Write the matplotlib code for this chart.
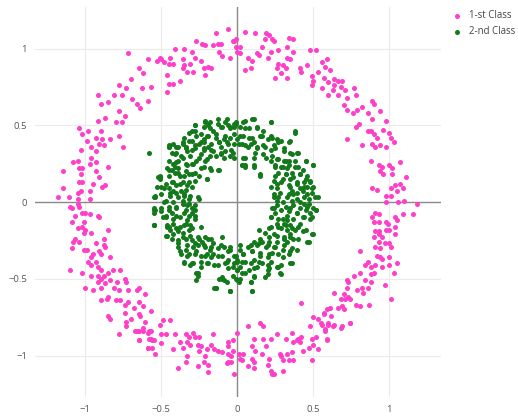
import numpy as np
import matplotlib
matplotlib.use("Agg")
import matplotlib.pyplot as plt

# points (x, y)
pink_pts = [
    (-0.65, 0.87), (-0.62, 0.84), (-0.70, 0.80), (-0.78, 0.76), (-0.76, 0.70), (-0.73, 0.74), (-0.69, 0.67),
    (-0.66, 0.64), (-0.64, 0.61), (-0.59, 0.66), (-0.63, 0.74), (-0.57, 0.75), (-0.92, 0.70), (-0.90, 0.64),
    (-0.85, 0.65), (-0.81, 0.70), (-0.87, 0.55), (-0.80, 0.52), (-0.76, 0.52), (-0.92, 0.53), (-0.78, 0.59),
    (-0.74, 0.56), (-1.04, 0.48), (-1.02, 0.44), (-0.98, 0.46), (-0.99, 0.40), (-0.93, 0.42), (-0.90, 0.46),
    (-0.89, 0.41), (-0.91, 0.38), (-0.88, 0.37), (-0.84, 0.41), (-0.78, 0.43), (-0.75, 0.36), (-0.96, 0.36),
    (-1.03, 0.34), (-0.96, 0.29), (-0.93, 0.33), (-1.05, 0.27), (-1.08, 0.26), (-1.04, 0.22), (-1.02, 0.22),
    (-0.97, 0.25), (-0.93, 0.26), (-0.85, 0.23), (-0.93, 0.20), (-0.91, 0.16), (-1.15, 0.20), (-1.03, 0.18),
    (-1.04, 0.13), (-1.02, 0.13), (-0.95, 0.12), (-0.89, 0.10), (-0.87, 0.11), (-1.15, 0.09), (-1.18, 0.03),
    (-1.11, 0.03), (-1.05, 0.06), (-1.03, 0.07), (-1.05, 0.02), (-0.97, 0.07), (-0.97, 0.02), (-1.10, -0.03),
    (-1.09, -0.04), (-1.05, -0.01), (-1.04, -0.03), (-1.07, -0.09), (-1.02, -0.07), (-1.00, -0.07),
    (-0.97, -0.08), (-0.92, -0.09), (-0.91, -0.10), (-1.09, -0.13), (-1.01, -0.13), (-1.02, -0.16),
    (-1.05, -0.17), (-1.00, -0.18), (-0.96, -0.20), (-1.01, -0.20), (-1.07, -0.24), (-1.08, -0.26),
    (-1.09, -0.30), (-1.04, -0.26), (-1.01, -0.31), (-0.99, -0.31), (-0.93, -0.27), (-0.88, -0.28),
    (-0.85, -0.18), (-0.88, -0.24), (-0.95, -0.34), (-0.91, -0.32), (-0.90, -0.34), (-0.96, -0.36),
    (-0.98, -0.39), (-0.93, -0.39), (-0.96, -0.41), (-0.84, -0.36), (-0.87, -0.29), (-0.92, -0.42),
    (-0.90, -0.44), (-1.10, -0.44), (-1.02, -0.46), (-0.96, -0.48), (-0.92, -0.48), (-0.90, -0.50),
    (-0.88, -0.48), (-0.85, -0.46), (-0.82, -0.44), (-0.77, -0.44), (-0.92, -0.52), (-0.87, -0.53),
    (-0.84, -0.51), (-0.79, -0.52), (-0.74, -0.50), (-0.73, -0.52), (-1.00, -0.56), (-0.95, -0.57),
    (-0.90, -0.56), (-0.81, -0.56), (-0.78, -0.57), (-0.72, -0.57), (-0.66, -0.57), (-0.65, -0.56),
    (-0.61, -0.60), (-0.90, -0.64), (-0.86, -0.63), (-0.85, -0.62), (-0.80, -0.64), (-0.77, -0.64),
    (-0.74, -0.67), (-0.72, -0.65), (-0.68, -0.69), (-0.65, -0.65), (-0.62, -0.68), (-0.57, -0.71),
    (-0.74, -0.72), (-0.70, -0.76), (-0.65, -0.73), (-0.64, -0.74), (-0.85, -0.74), (-0.84, -0.76),
    (-0.73, -0.78), (-0.73, -0.81), (-0.61, -0.78), (-0.66, -0.84), (-0.62, -0.84), (-0.58, -0.84),
    (-0.57, -0.89), (-0.55, -0.90), (-0.78, -0.86), (-0.65, -0.90), (-0.59, -0.95), (-0.56, -0.95),
    # upper left
    (-0.72, 0.97), (-0.59, 0.93), (-0.51, 0.94), (-0.53, 0.92),
    (-0.50, 0.93), (-0.48, 0.91), (-0.45, 0.90), (-0.42, 0.90), (-0.44, 0.94), (-0.36, 0.93), (-0.35, 0.89),
    (-0.41, 1.00), (-0.35, 1.00), (-0.27, 1.05), (-0.23, 1.03), (-0.21, 1.02), (-0.16, 1.02), (-0.14, 1.10),
    (-0.11, 1.03), (-0.12, 0.98), (-0.10, 0.95), (-0.05, 0.94), (-0.02, 1.05), (-0.01, 1.01), (0.00, 0.98),
    (-0.06, 1.13), (-0.03, 1.05), (-0.30, 0.98), (-0.28, 0.94), (-0.31, 0.90), (-0.29, 0.85), (-0.24, 0.92),
    (-0.22, 0.87), (-0.19, 0.88), (-0.17, 0.87), (-0.21, 0.83), (-0.36, 0.87), (-0.33, 0.85), (-0.38, 0.79),
    (-0.42, 0.77), (-0.46, 0.83), (-0.45, 0.77), (-0.46, 0.72), (-0.01, 1.06), (-0.13, 1.03),
    # upper right
    (0.05, 1.11), (0.12, 1.10), (0.19, 1.10), (0.21, 1.09), (0.02, 1.01), (0.02, 0.97), (0.07, 0.94),
    (0.10, 0.92), (0.05, 0.86), (0.09, 0.87), (0.13, 0.97), (0.14, 0.96), (0.16, 1.01), (0.18, 1.06),
    (0.23, 1.06), (0.24, 1.05), (0.22, 0.98), (0.20, 0.94), (0.27, 0.99), (0.34, 1.07), (0.37, 1.06),
    (0.33, 1.01), (0.37, 0.98), (0.33, 0.94), (0.35, 0.93), (0.27, 0.90), (0.30, 0.89), (0.26, 0.87),
    (0.32, 0.87), (0.25, 0.81), (0.29, 0.84), (0.33, 0.81), (0.41, 0.87), (0.42, 0.85), (0.46, 0.89),
    (0.48, 0.99), (0.52, 0.99), (0.49, 0.82), (0.50, 0.79), (0.53, 0.85), (0.56, 0.91), (0.59, 0.93),
    (0.58, 0.88), (0.61, 0.86), (0.56, 0.74), (0.49, 0.76), (0.57, 0.81), (0.60, 0.78), (0.64, 0.80),
    (0.66, 0.79), (0.69, 0.79), (0.64, 0.76), (0.68, 0.75), (0.63, 0.73), (0.60, 0.70), (0.66, 0.70),
    (0.71, 0.73), (0.72, 0.68), (0.77, 0.74), (0.78, 0.70), (0.70, 0.63), (0.72, 0.60), (0.76, 0.58),
    (0.79, 0.60), (0.82, 0.62), (0.86, 0.58), (0.89, 0.66), (0.90, 0.64), (0.89, 0.54), (0.94, 0.59),
    (0.78, 0.49), (0.80, 0.51), (0.86, 0.46), (0.88, 0.46), (0.90, 0.44), (0.92, 0.42), (0.98, 0.53),
    (0.96, 0.47), (1.00, 0.45), (1.01, 0.42), (0.72, 0.41), (0.82, 0.37), (0.89, 0.38), (0.91, 0.36),
    (0.94, 0.37), (0.98, 0.36), (1.03, 0.39), (0.88, 0.27), (0.93, 0.24), (0.95, 0.23), (1.00, 0.24),
    (1.02, 0.22), (1.07, 0.26), (0.94, 0.20), (0.96, 0.18), (1.02, 0.18), (1.11, 0.16), (1.01, 0.09),
    (1.04, 0.11), (1.07, 0.12), (1.09, 0.09), (0.89, 0.09), (0.92, 0.08), (0.98, 0.04), (1.01, 0.04),
    (1.05, 0.07), (1.10, 0.01), (1.06, 0.00), (1.18, -0.01), (0.98, 0.00),
    # lower right
    (0.89, -0.10), (0.91, -0.07), (0.93, -0.08), (0.90, -0.13), (0.93, -0.13), (0.98, -0.13), (0.99, -0.14),
    (1.04, -0.10), (1.05, -0.12), (1.09, -0.08), (1.16, -0.08), (1.04, -0.16), (0.91, -0.19), (0.93, -0.19),
    (0.93, -0.21), (0.98, -0.18), (1.00, -0.18), (1.04, -0.21), (0.90, -0.23), (0.95, -0.23), (0.93, -0.26),
    (0.97, -0.27), (1.00, -0.27), (1.01, -0.29), (0.91, -0.29), (0.94, -0.30), (0.81, -0.32), (0.92, -0.35),
    (0.94, -0.36), (0.95, -0.37), (1.00, -0.36), (1.05, -0.40), (0.86, -0.39), (0.84, -0.41), (0.88, -0.42),
    (0.91, -0.41), (0.95, -0.42), (1.00, -0.41), (1.03, -0.46), (0.81, -0.46), (0.88, -0.47), (0.90, -0.46),
    (0.77, -0.48), (0.72, -0.51), (0.73, -0.52), (0.84, -0.51), (0.88, -0.52), (0.97, -0.54), (0.82, -0.56),
    (0.79, -0.57), (0.83, -0.59), (0.86, -0.56), (0.72, -0.56), (0.64, -0.59), (0.70, -0.60), (0.73, -0.62),
    (0.71, -0.63), (0.68, -0.63), (0.74, -0.63), (1.01, -0.63), (0.78, -0.67), (0.81, -0.68), (0.87, -0.67),
    (0.69, -0.68), (0.66, -0.69), (0.70, -0.70), (0.61, -0.69), (0.59, -0.70), (0.57, -0.72), (0.62, -0.74),
    (0.56, -0.80), (0.60, -0.80), (0.64, -0.80), (0.69, -0.81), (0.74, -0.79), (0.58, -0.84), (0.59, -0.90),
    (0.42, -0.66), (0.53, -0.76), (0.57, -0.73), (0.50, -0.75),
    # bottom
    (-0.67, -0.84), (-0.65, -0.84), (-0.62, -0.82), (-0.59, -0.85), (-0.57, -0.84), (-0.58, -0.89),
    (-0.56, -0.90), (-0.65, -0.90), (-0.59, -0.95), (-0.54, -0.99), (-0.50, -0.86), (-0.47, -0.86),
    (-0.50, -0.92), (-0.51, -0.80), (-0.49, -0.77), (-0.44, -0.77), (-0.41, -0.86), (-0.42, -0.96),
    (-0.38, -0.91), (-0.36, -0.95), (-0.34, -0.86), (-0.33, -0.91), (-0.31, -0.93), (-0.32, -0.88),
    (-0.29, -0.85), (-0.28, -0.88), (-0.25, -0.88), (-0.26, -0.93), (-0.24, -0.94), (-0.25, -0.97),
    (-0.33, -1.00), (-0.34, -1.04), (-0.39, -1.08), (-0.26, -1.07), (-0.20, -0.96), (-0.21, -1.00),
    (-0.22, -1.04), (-0.19, -1.06), (-0.19, -1.11), (-0.16, -0.86), (-0.17, -0.93), (-0.15, -0.96),
    (-0.13, -0.97), (-0.10, -0.98), (-0.06, -0.91), (-0.06, -0.94), (-0.06, -0.99), (-0.04, -1.00),
    (-0.07, -1.05), (-0.06, -1.04), (-0.04, -1.04), (-0.03, -0.90), (0.00, -0.85), (-0.03, -0.97),
    (-0.02, -1.12), (0.01, -0.99), (0.02, -1.02), (0.03, -1.03), (0.04, -0.99), (0.07, -0.81), (0.07, -1.07),
    (0.10, -0.94), (0.10, -1.02), (0.11, -1.04), (0.11, -0.89), (0.12, -0.97), (0.11, -1.08), (0.15, -0.79),
    (0.17, -0.81), (0.17, -0.89), (0.16, -0.99), (0.19, -0.94), (0.20, -1.06), (0.21, -1.02), (0.22, -0.89),
    (0.22, -1.10), (0.24, -1.12), (0.23, -1.12), (0.26, -0.86), (0.28, -0.99), (0.29, -1.00), (0.30, -1.03),
    (0.30, -1.10), (0.32, -0.89), (0.33, -0.99), (0.34, -1.03), (0.36, -0.85), (0.37, -0.91), (0.36, -0.98),
    (0.37, -1.03), (0.39, -0.90), (0.40, -0.89), (0.41, -0.91), (0.42, -0.88), (0.43, -0.97), (0.47, -0.95),
    (0.48, -0.81), (0.49, -0.89), (0.49, -1.03), (0.50, -0.93), (0.52, -0.88), (0.53, -0.96), (0.55, -0.79),
    (0.58, -0.83), (0.59, -0.89), (0.60, -0.79), (0.63, -0.81), (0.68, -0.82), (0.74, -0.79),
]

green_pts = [
    (-0.58, 0.32), (-0.28, 0.50), (-0.21, 0.52), (-0.19, 0.50), (-0.16, 0.46), (-0.11, 0.49), (-0.07, 0.54),
    (-0.06, 0.50), (-0.01, 0.52), (-0.02, 0.49), (-0.30, 0.46), (-0.27, 0.43), (-0.32, 0.40), (-0.34, 0.36),
    (-0.39, 0.36), (-0.45, 0.36), (-0.43, 0.32), (-0.40, 0.32), (-0.37, 0.30), (-0.33, 0.33), (-0.30, 0.34),
    (-0.28, 0.37), (-0.24, 0.39), (-0.22, 0.41), (-0.19, 0.43), (-0.14, 0.42), (-0.12, 0.39), (-0.09, 0.41),
    (-0.07, 0.39), (-0.05, 0.42), (-0.02, 0.38), (0.00, 0.41), (-0.04, 0.34), (-0.05, 0.30), (-0.08, 0.33),
    (-0.11, 0.31), (-0.16, 0.33), (-0.18, 0.30), (-0.21, 0.27), (-0.24, 0.31), (-0.27, 0.27), (-0.30, 0.25),
    (-0.33, 0.24), (-0.34, 0.20), (-0.39, 0.22), (-0.41, 0.19), (-0.38, 0.17), (-0.32, 0.18), (-0.28, 0.19),
    (-0.24, 0.22), (-0.20, 0.15), (-0.17, 0.21), (-0.12, 0.21), (-0.43, 0.13), (-0.40, 0.11), (-0.36, 0.13),
    (-0.32, 0.13), (-0.30, 0.10), (-0.45, 0.09), (-0.42, 0.07), (-0.37, 0.07), (-0.34, 0.08), (-0.51, 0.15),
    (-0.50, 0.10), (-0.44, 0.04), (-0.39, 0.03), (-0.35, 0.04), (-0.32, 0.02), (-0.26, 0.03), (-0.55, 0.03),
    (-0.48, 0.00), (-0.45, -0.03), (-0.40, -0.03), (-0.36, -0.01), (-0.33, -0.02), (-0.30, -0.04),
    (-0.28, -0.05), (-0.55, -0.05), (-0.50, -0.06), (-0.47, -0.09), (-0.43, -0.07), (-0.40, -0.09),
    (-0.35, -0.07), (-0.32, -0.09), (-0.28, -0.09), (-0.55, -0.15), (-0.46, -0.15), (-0.42, -0.14),
    (-0.38, -0.16), (-0.34, -0.14), (-0.31, -0.15), (-0.44, -0.18), (-0.39, -0.19), (-0.36, -0.20),
    (-0.32, -0.18), (-0.47, -0.22), (-0.43, -0.24), (-0.39, -0.25), (-0.34, -0.24), (-0.30, -0.25),
    (-0.26, -0.23), (-0.23, -0.26), (-0.19, -0.24), (-0.16, -0.27), (-0.39, -0.29), (-0.34, -0.31),
    (-0.29, -0.29), (-0.26, -0.28), (-0.21, -0.29), (-0.18, -0.31), (-0.13, -0.30), (-0.09, -0.29),
    (-0.37, -0.34), (-0.33, -0.35), (-0.28, -0.34), (-0.24, -0.35), (-0.20, -0.34), (-0.17, -0.36),
    (-0.13, -0.35), (-0.35, -0.40), (-0.31, -0.41), (-0.29, -0.40), (-0.24, -0.42), (-0.20, -0.40),
    (-0.15, -0.41), (-0.08, -0.40), (-0.05, -0.31), (-0.02, -0.35), (-0.06, -0.38), (-0.03, -0.42),
    (0.00, -0.39), (0.00, -0.44), (-0.26, -0.46), (-0.10, -0.50), (-0.07, -0.52), (-0.01, -0.50),
    (-0.15, -0.56), (-0.05, -0.58), (-0.11, 0.36), (-0.22, 0.35), (-0.19, 0.36), (-0.39, 0.27),
    (-0.42, 0.25), (-0.45, 0.21), (-0.52, 0.16),
    (0.04, 0.52), (0.10, 0.54), (0.22, 0.52), (0.05, 0.48), (0.13, 0.48), (0.38, 0.46), (0.02, 0.43),
    (0.08, 0.42), (0.11, 0.39), (0.16, 0.43), (0.20, 0.41), (0.23, 0.42), (0.27, 0.39), (0.34, 0.39),
    (0.03, 0.38), (0.07, 0.36), (0.13, 0.35), (0.18, 0.36), (0.22, 0.34), (0.25, 0.35), (0.31, 0.33),
    (0.35, 0.32), (0.39, 0.32), (0.04, 0.29), (0.11, 0.29), (0.19, 0.29), (0.22, 0.27), (0.26, 0.28),
    (0.31, 0.27), (0.34, 0.27), (0.45, 0.27), (0.03, 0.24), (0.11, 0.23), (0.05, 0.23), (0.25, 0.23),
    (0.29, 0.23), (0.33, 0.22), (0.38, 0.23), (0.43, 0.21), (0.50, 0.24), (0.15, 0.18), (0.27, 0.19),
    (0.32, 0.18), (0.36, 0.19), (0.41, 0.18), (0.46, 0.17), (0.24, 0.14), (0.29, 0.13), (0.35, 0.15),
    (0.39, 0.13), (0.44, 0.13), (0.48, 0.14), (0.22, 0.10), (0.26, 0.09), (0.35, 0.10), (0.41, 0.09),
    (0.46, 0.10), (0.50, 0.10), (0.24, 0.03), (0.27, 0.03), (0.33, 0.03), (0.37, 0.05), (0.39, 0.02),
    (0.44, 0.03), (0.47, 0.02), (0.53, 0.03), (0.36, 0.07), (0.43, 0.07), (0.49, 0.06), (0.23, -0.04),
    (0.26, -0.02), (0.32, -0.03), (0.41, -0.04), (0.46, -0.03), (0.50, -0.04), (0.44, -0.01), (0.37, -0.02),
    (0.25, -0.07), (0.34, -0.06), (0.39, -0.07), (0.48, -0.07), (0.52, -0.05), (0.22, -0.10), (0.30, -0.11),
    (0.33, -0.12), (0.44, -0.10), (0.49, -0.10), (0.26, -0.14), (0.31, -0.14), (0.35, -0.15), (0.41, -0.14),
    (0.21, -0.17), (0.29, -0.17), (0.33, -0.18), (0.38, -0.18), (0.43, -0.19), (0.14, -0.18), (0.18, -0.20),
    (0.24, -0.21), (0.31, -0.23), (0.35, -0.21), (0.49, -0.21), (0.11, -0.26), (0.16, -0.26), (0.21, -0.26),
    (0.26, -0.26), (0.33, -0.26), (0.37, -0.24), (0.46, -0.26), (0.07, -0.29), (0.13, -0.28), (0.19, -0.29),
    (0.24, -0.29), (0.30, -0.31), (0.35, -0.32), (0.39, -0.31), (0.02, -0.31), (0.04, -0.34), (0.10, -0.32),
    (0.15, -0.33), (0.20, -0.36), (0.23, -0.33), (0.30, -0.36), (0.34, -0.34), (0.00, -0.38), (0.05, -0.39),
    (0.11, -0.38), (0.16, -0.40), (0.22, -0.39), (0.29, -0.41), (0.35, -0.40), (0.02, -0.42), (0.08, -0.44),
    (0.13, -0.42), (0.20, -0.44), (0.26, -0.42), (0.03, -0.46), (0.11, -0.49), (0.20, -0.47), (0.29, -0.47),
    (0.01, -0.52), (0.09, -0.52), (0.10, -0.58),
    (-0.45, 0.36), (-0.42, 0.38), (-0.36, 0.38), (-0.35, 0.42), (-0.28, 0.46), (-0.22, 0.49), (-0.18, 0.52),
    (-0.13, 0.51), (-0.05, 0.49), (-0.02, 0.51), (-0.46, 0.22), (-0.51, 0.17), (-0.45, 0.17), (-0.53, 0.10),
    (-0.48, 0.09), (-0.54, 0.04), (-0.41, 0.23),
    (-0.55, -0.15), (-0.55, -0.07), (-0.54, -0.05), (-0.49, -0.10), (-0.46, -0.16), (-0.27, -0.51),
    (-0.26, -0.48), (-0.14, -0.56), (-0.05, -0.58), (-0.12, -0.50), (-0.09, -0.51), (0.00, -0.51),
    (0.50, -0.21), (0.36, -0.40), (0.28, -0.46), (0.11, -0.48), (0.21, -0.43),
    # second pass over the inner ring
    (-0.21, 0.53), (-0.13, 0.54), (-0.08, 0.52), (-0.01, 0.51), (0.05, 0.53), (0.11, 0.54), (0.22, 0.52),
    (-0.28, 0.50), (-0.18, 0.48), (-0.10, 0.49), (-0.05, 0.48), (0.02, 0.49), (0.08, 0.48), (0.13, 0.49),
    (0.17, 0.46), (0.38, 0.45), (-0.32, 0.45), (-0.24, 0.44), (-0.20, 0.43), (-0.14, 0.44), (-0.08, 0.43),
    (-0.02, 0.44), (0.04, 0.43), (0.10, 0.42), (0.15, 0.43), (0.22, 0.43), (0.26, 0.41), (0.29, 0.40),
    (0.35, 0.40), (-0.36, 0.39), (-0.30, 0.40), (-0.25, 0.38), (-0.22, 0.39), (-0.17, 0.38), (-0.12, 0.39),
    (-0.06, 0.38), (0.01, 0.38), (0.05, 0.37), (0.09, 0.38), (0.13, 0.36), (0.17, 0.37), (0.24, 0.37),
    (0.31, 0.35), (0.36, 0.31), (0.40, 0.32), (-0.45, 0.37), (-0.40, 0.36), (-0.34, 0.35), (-0.28, 0.35),
    (-0.22, 0.34), (-0.17, 0.34), (-0.11, 0.32), (-0.03, 0.32), (-0.02, 0.29), (0.05, 0.29), (0.12, 0.32),
    (0.17, 0.31), (0.23, 0.30), (0.27, 0.28), (0.32, 0.27), (0.38, 0.27), (0.45, 0.27), (-0.41, 0.31),
    (-0.36, 0.29), (-0.31, 0.30), (-0.25, 0.29), (-0.20, 0.28), (-0.14, 0.30), (-0.09, 0.29), (0.03, 0.24),
    (0.05, 0.24), (0.11, 0.24), (-0.45, 0.27), (-0.40, 0.26), (-0.34, 0.25), (-0.29, 0.25), (-0.22, 0.23),
    (-0.18, 0.22), (-0.13, 0.21), (0.25, 0.24), (0.30, 0.23), (0.34, 0.24), (0.40, 0.23), (0.50, 0.24),
    (0.15, 0.17), (-0.43, 0.21), (-0.39, 0.19), (-0.35, 0.17), (-0.30, 0.18), (-0.25, 0.17), (-0.20, 0.15),
    (-0.51, 0.16), (-0.47, 0.12), (-0.42, 0.13), (-0.38, 0.12), (-0.33, 0.11), (-0.28, 0.14), (0.25, 0.17),
    (0.30, 0.15), (0.32, 0.18), (0.37, 0.16), (0.41, 0.18), (0.45, 0.15), (0.48, 0.13), (0.26, 0.12),
    (0.34, 0.11), (0.39, 0.12), (0.44, 0.10), (0.49, 0.09), (-0.50, 0.05), (-0.44, 0.06), (-0.40, 0.06),
    (-0.35, 0.05), (-0.31, 0.04), (-0.25, 0.02), (-0.54, 0.03), (0.24, 0.05), (0.28, 0.06), (0.34, 0.05),
    (0.39, 0.06), (0.46, 0.05), (0.51, 0.03), (-0.47, 0.01), (-0.42, -0.00), (-0.36, 0.01), (-0.32, -0.01),
    (-0.28, -0.02), (0.26, 0.01), (0.30, -0.00), (0.36, 0.01), (0.41, -0.00), (0.47, -0.01), (-0.55, -0.04),
    (-0.50, -0.04), (-0.45, -0.05), (-0.40, -0.04), (-0.34, -0.05), (-0.30, -0.07), (0.24, -0.04),
    (0.29, -0.05), (0.35, -0.04), (0.39, -0.07), (0.45, -0.05), (0.52, -0.05), (-0.47, -0.10),
    (-0.42, -0.11), (-0.38, -0.10), (-0.33, -0.12), (-0.28, -0.11), (0.22, -0.10), (0.27, -0.11),
    (0.33, -0.09), (0.37, -0.11), (0.43, -0.10), (0.48, -0.11), (-0.55, -0.15), (-0.45, -0.16),
    (-0.40, -0.17), (-0.35, -0.15), (-0.30, -0.17), (-0.24, -0.16), (0.22, -0.16), (0.27, -0.16),
    (0.32, -0.15), (0.36, -0.17), (0.40, -0.16), (0.45, -0.18), (-0.46, -0.22), (-0.42, -0.21),
    (-0.36, -0.23), (-0.31, -0.22), (-0.25, -0.24), (-0.21, -0.23), (-0.17, -0.24), (-0.10, -0.23),
    (0.15, -0.24), (0.21, -0.23), (0.26, -0.22), (0.31, -0.24), (0.35, -0.23), (0.40, -0.24), (0.47, -0.26),
    (-0.39, -0.27), (-0.33, -0.28), (-0.28, -0.27), (-0.22, -0.28), (-0.17, -0.29), (-0.11, -0.28),
    (-0.05, -0.29), (0.02, -0.28), (0.09, -0.28), (0.14, -0.27), (0.20, -0.28), (0.25, -0.29), (0.31, -0.28),
    (0.36, -0.30), (-0.38, -0.32), (-0.32, -0.34), (-0.27, -0.32), (-0.21, -0.35), (-0.16, -0.34),
    (-0.10, -0.35), (-0.06, -0.32), (-0.01, -0.35), (0.04, -0.34), (0.10, -0.32), (0.15, -0.35),
    (0.21, -0.34), (0.27, -0.34), (-0.35, -0.39), (-0.30, -0.40), (-0.24, -0.39), (-0.19, -0.40),
    (-0.13, -0.41), (-0.07, -0.39), (-0.02, -0.40), (0.03, -0.39), (0.09, -0.40), (0.14, -0.39),
    (0.20, -0.41), (0.27, -0.42), (-0.06, -0.43), (0.00, -0.44), (0.05, -0.46), (0.11, -0.43),
    (-0.27, -0.46), (-0.10, -0.49), (-0.03, -0.48), (0.02, -0.50), (0.09, -0.52), (0.18, -0.49),
    (-0.14, -0.56), (-0.05, -0.58), (0.10, -0.58),
]

labels = ["1-st Class", "2-nd Class"]
colors = ["#ff3ec9", "#137a1c"]
ticks = [-1, -0.5, 0, 0.5, 1]
tick_labels = ["\u22121", "\u22120.5", "0", "0.5", "1"]

pink = np.array(pink_pts)
green = np.array(green_pts)

plt.rcParams["font.family"] = ["Open Sans", "DejaVu Sans"]
fig = plt.figure(figsize=(5.18, 4.17), dpi=100)
ax = fig.add_axes([0.068, 0.048, 0.783, 0.935])

ax.axhline(0, color="#8a8a8a", lw=1.0, zorder=1)
ax.axvline(0, color="#8a8a8a", lw=1.0, zorder=1)
s1 = ax.scatter(pink[:, 0], pink[:, 1], s=13, color=colors[0], linewidths=0, zorder=3, label=labels[0])
s2 = ax.scatter(green[:, 0], green[:, 1], s=13, color=colors[1], linewidths=0, zorder=3, label=labels[1])

ax.set_xlim(-1.33, 1.34)
ax.set_ylim(-1.27, 1.27)
ax.set_xticks(ticks)
ax.set_xticklabels(tick_labels)
ax.set_yticks(ticks)
ax.set_yticklabels(tick_labels)
ax.grid(True, color="#ebebeb", lw=0.8, zorder=0)
ax.set_axisbelow(True)
for sp in ax.spines.values():
    sp.set_visible(False)
ax.tick_params(length=0, labelsize=6.8, colors="#555555", pad=6)

fig.legend(handles=[s1, s2], loc="upper left", bbox_to_anchor=(0.868, 0.985), frameon=False,
           fontsize=6.9, handletextpad=0.8, labelspacing=0.55, markerscale=1.0,
           handlelength=0.8, borderaxespad=0, labelcolor="#444444")

fig.savefig("out.png", dpi=100)
